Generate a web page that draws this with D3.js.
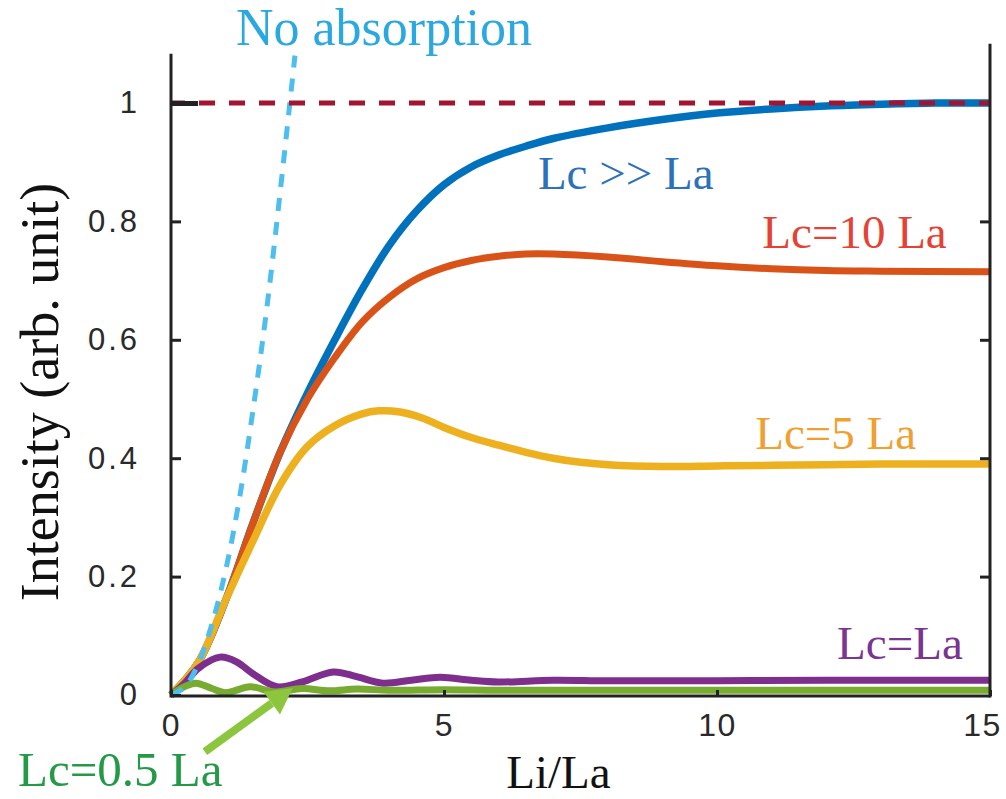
<!DOCTYPE html>
<html lang="en">
<head>
  <meta charset="utf-8">
  <title>Intensity vs Li/La</title>
  <script src="https://d3js.org/d3.v7.min.js"></script>
  <style>
    body { margin: 0; background: #fff; }
    svg text.serif { font-family: 'Liberation Serif', Tinos, 'Times New Roman', Times, 'DejaVu Serif', 'Noto Serif', serif; }
    svg .tick text { font-family: 'Liberation Sans', Arimo, Arial, Helvetica, sans-serif; fill: #2a2a2a; }
  </style>
</head>
<body>
  <div id="chart"></div>
  <script>
    // values, [Li/La, intensity]
    var lcMuchLarger = [[0,0],[0.5,0.055],[1,0.16],[1.5,0.29],[2,0.41],[2.5,0.51],[3,0.60],[3.5,0.685],[4,0.76],[4.5,0.818],[5,0.862],[5.5,0.892],[6,0.912],[6.5,0.927],[7,0.94],[8,0.958],[9,0.972],[10,0.983],[11,0.99],[12,0.995],[13,0.998],[14,1],[15,1]];
    var lc10 = [[0,0],[0.5,0.055],[1,0.16],[1.5,0.29],[2,0.41],[2.5,0.50],[3,0.57],[3.5,0.63],[4,0.672],[4.5,0.703],[5,0.722],[5.5,0.734],[6,0.741],[6.5,0.745],[7,0.745],[8,0.74],[9,0.732],[10,0.725],[11,0.72],[12,0.717],[13,0.716],[15,0.715]];
    var lc5 = [[0,0],[0.5,0.055],[1,0.16],[1.5,0.26],[2,0.355],[2.5,0.42],[3,0.455],[3.5,0.475],[3.8,0.48],[4.2,0.478],[4.6,0.468],[5,0.452],[5.5,0.435],[6,0.422],[6.5,0.41],[7,0.40],[7.5,0.393],[8,0.389],[9,0.386],[10,0.387],[11,0.388],[12,0.389],[13,0.39],[15,0.39]];
    var lc1 = [[0,0],[0.25,0.02],[0.5,0.045],[0.9,0.064],[1.2,0.056],[1.5,0.036],[1.94,0.014],[2.4,0.022],[2.97,0.039],[3.4,0.031],[3.88,0.02],[4.4,0.025],[4.93,0.03],[5.5,0.025],[6,0.022],[7,0.025],[8,0.024],[10,0.024],[12,0.025],[15,0.025]];
    var lcHalf = [[0,0],[0.2,0.012],[0.45,0.02],[0.75,0.011],[1,0.004],[1.45,0.014],[1.9,0.005],[2.4,0.011],[2.9,0.007],[3.4,0.01],[4,0.008],[5,0.009],[6,0.008],[8,0.008],[10,0.008],[15,0.008]];
    var noAbsorption = [[0,0],[0.25,0.013],[0.5,0.053],[0.75,0.12],[1,0.21],[1.25,0.33],[1.5,0.48],[1.75,0.65],[2,0.85],[2.27,1.08]];
    var saturation = [[0,1],[15,1]];

    var xTicks = [0, 5, 10, 15];
    var yTicks = [0, 0.2, 0.4, 0.6, 0.8, 1];

    var w = 1006, h = 799;
    var x = d3.scaleLinear().domain([0, 15]).range([171, 990]);
    var y = d3.scaleLinear().domain([0, 1]).range([695, 103]);

    var svg = d3.select('#chart').append('svg')
      .attr('width', w).attr('height', h);

    var line = d3.line()
      .x(function(d){ return x(d[0]); })
      .y(function(d){ return y(d[1]); })
      .curve(d3.curveCatmullRom.alpha(0.5));

    var series = [
      {data: lcMuchLarger, color: '#0072BD', width: 7.5},
      {data: lc10, color: '#D95319', width: 7},
      {data: lc5, color: '#EDB120', width: 7.5},
      {data: lc1, color: '#7E2F8E', width: 7},
      {data: lcHalf, color: '#77AC30', width: 7}
    ];

    svg.selectAll('.curve')
      .data(series)
      .enter().append('path')
        .attr('class', 'curve')
        .attr('d', function(d){ return line(d.data); })
        .attr('fill', 'none')
        .attr('stroke', function(d){ return d.color; })
        .attr('stroke-width', function(d){ return d.width; })
        .attr('stroke-linejoin', 'round');

    // dashed references
    svg.append('path')
      .attr('d', line(noAbsorption))
      .attr('fill', 'none')
      .attr('stroke', '#4DBEEE')
      .attr('stroke-width', 5)
      .attr('stroke-dasharray', '13,11');

    svg.append('path')
      .attr('d', d3.line().x(function(d){return x(d[0]);}).y(function(d){return y(d[1]);})(saturation))
      .attr('fill', 'none')
      .attr('stroke', '#A2142F')
      .attr('stroke-width', 5)
      .attr('stroke-dasharray', '16,14')
      .attr('stroke-dashoffset', -28);

    // axes
    var left = svg.append('g')
      .attr('transform', 'translate(' + x(0) + ',0)')
      .call(d3.axisLeft(y).tickValues(yTicks).tickFormat(d3.format('~g'))
        .tickSizeInner(-10).tickSizeOuter(0).tickPadding(31));
    left.select('.domain').remove();
    left.selectAll('.tick line').attr('stroke', '#222').attr('stroke-width', 3);
    left.selectAll('.tick text').attr('font-size', 31).attr('letter-spacing', 3);
    left.selectAll('.tick').filter(function(d){ return d === 1; }).select('line')
      .attr('x2', 27).attr('stroke-width', 5);

    var right = svg.append('g')
      .attr('transform', 'translate(' + x(15) + ',0)')
      .call(d3.axisRight(y).tickValues([0.2, 0.4, 0.6, 0.8]).tickFormat('')
        .tickSizeInner(-10).tickSizeOuter(0));
    right.select('.domain').remove();
    right.selectAll('.tick line').attr('stroke', '#222').attr('stroke-width', 3);

    var bottom = svg.append('g')
      .attr('transform', 'translate(0,' + (y(0) + 1) + ')')
      .call(d3.axisBottom(x).tickValues(xTicks).tickFormat(d3.format('d'))
        .tickSizeInner(-6).tickSizeOuter(0).tickPadding(17));
    bottom.select('.domain').remove();
    bottom.selectAll('.tick line').attr('stroke', '#222').attr('stroke-width', 3);
    bottom.selectAll('.tick text').attr('font-size', 32).attr('letter-spacing', 1.5);
    bottom.selectAll('.tick').filter(function(d){ return d === 15; }).select('text').attr('dx', -8);

    var frame = svg.append('g').attr('stroke', '#222').attr('stroke-width', 3).attr('fill', 'none');
    frame.append('line').attr('x1', x(0)).attr('x2', x(0)).attr('y1', y(1.083)).attr('y2', y(0) + 2.5);
    frame.append('line').attr('x1', x(15)).attr('x2', x(15)).attr('y1', y(1.1)).attr('y2', y(0) + 2.5);
    frame.append('line').attr('x1', x(0)).attr('x2', x(15)).attr('y1', y(0) + 1).attr('y2', y(0) + 1);

    // axis titles
    svg.append('text').attr('class', 'serif')
      .attr('transform', 'translate(58,392) rotate(-90)')
      .attr('text-anchor', 'middle')
      .attr('font-size', 54).attr('fill', '#111')
      .text('Intensity (arb. unit)');

    svg.append('text').attr('class', 'serif')
      .attr('x', x(7.5) - 22).attr('y', 788)
      .attr('text-anchor', 'middle')
      .attr('font-size', 47).attr('fill', '#111')
      .text('Li/La');

    // curve labels
    var labels = [
      {text: 'No absorption', color: '#29A9E0', x: 1.19, y: 1.098, size: 52},
      {text: 'Lc >> La', color: '#2B72B8', x: 6.72, y: 0.855, size: 47},
      {text: 'Lc=10 La', color: '#E34234', x: 10.83, y: 0.755, size: 47},
      {text: 'Lc=5 La', color: '#F0A030', x: 10.7, y: 0.415, size: 47},
      {text: 'Lc=La', color: '#7A3591', x: 12.2, y: 0.06, size: 47}
    ];
    svg.selectAll('.lbl')
      .data(labels)
      .enter().append('text')
        .attr('class', 'lbl serif')
        .attr('x', function(d){ return x(d.x); })
        .attr('y', function(d){ return y(d.y); })
        .attr('font-size', function(d){ return d.size; })
        .attr('fill', function(d){ return d.color; })
        .text(function(d){ return d.text; });

    svg.append('text').attr('class', 'serif')
      .attr('x', 18).attr('y', 786)
      .attr('font-size', 49).attr('fill', '#249A47')
      .text('Lc=0.5 La');

    // arrow pointing to the Lc=0.5 La curve
    var tail = [x(0.62), y(-0.096)], tip = [x(2.23), y(0.012)];
    var ang = Math.atan2(tip[1] - tail[1], tip[0] - tail[0]);
    var headLen = 26, headW = 14;
    var base = [tip[0] - headLen * Math.cos(ang), tip[1] - headLen * Math.sin(ang)];
    svg.append('line')
      .attr('x1', tail[0]).attr('y1', tail[1])
      .attr('x2', base[0]).attr('y2', base[1])
      .attr('stroke', '#8CC63F').attr('stroke-width', 8);
    svg.append('path')
      .attr('d', 'M' + tip + 'L' + [base[0] + headW * Math.sin(ang), base[1] - headW * Math.cos(ang)] +
        'L' + [base[0] - headW * Math.sin(ang), base[1] + headW * Math.cos(ang)] + 'Z')
      .attr('fill', '#8CC63F');
  </script>
</body>
</html>
